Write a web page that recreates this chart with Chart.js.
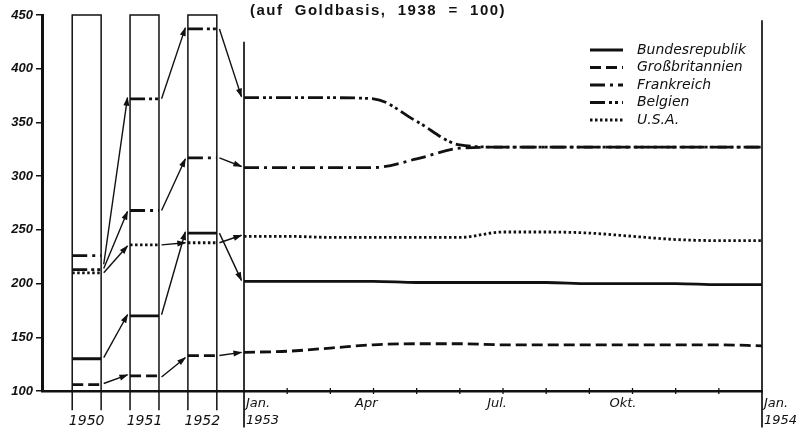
<!DOCTYPE html>
<html>
<head>
<meta charset="utf-8">
<script src="https://cdn.jsdelivr.net/npm/chart.js@4/dist/chart.umd.min.js"></script>
<style>
  html, body { margin: 0; background: #fff; }
  #c { display: block; }
</style>
</head>
<body>
<canvas id="c" width="802" height="431"></canvas>
<script>
// series
const countries = ['Bundesrepublik', 'Großbritannien', 'Frankreich', 'Belgien', 'U.S.A.'];

// yearly boxes 1950, 1951, 1952
const years = ['1950', '1951', '1952'];
const bundYears = [130, 170, 247];
const gbYears = [106, 114, 133];
const frYears = [226, 268, 317];
const beYears = [213, 372, 437];
const usaYears = [210, 236, 238];

// arrows between boxes (start value, end value)
const bundArrowFrom = [131, 171, 247];
const bundArrowTo = [171, 248, 203];
const gbArrowFrom = [107, 113, 133];
const gbArrowTo = [115, 131, 136];
const frArrowFrom = [214, 268, 317];
const frArrowTo = [267, 316, 309];
const beArrowFrom = [218, 372, 437];
const beArrowTo = [373, 438, 374];
const usaArrowFrom = [210, 236, 238];
const usaArrowTo = [235, 238, 245];

// monthly, Jan 1953 .. Jan 1954
const months = [0, 1, 2, 3, 4, 5, 6, 7, 8, 9, 10, 11, 12];
const bund53 = [202, 202, 202, 202, 201, 201, 201, 201, 200, 200, 200, 199, 199];
const gb53 = [136, 137, 140, 143, 144, 144, 143, 143, 143, 143, 143, 143, 142];
const fr53 = [308, 308, 308, 308, 316, 326, 327, 327, 327, 327, 327, 327, 327];
const be53 = [373, 373, 373, 372, 351, 329, 327, 327, 327, 327, 327, 327, 327];
const usa53 = [244, 244, 243, 243, 243, 243, 248, 248, 247, 244, 241, 240, 240];

const monthTickAt = [0, 3, 6, 9, 12];
const monthTickLabels = [['Jan.', '1953'], ['Apr'], ['Jul.'], ['Okt.'], ['Jan.', '1954']];
const yTicks = [100, 150, 200, 250, 300, 350, 400, 450];

// layout (in x units of months)
const X_MIN = -4.68, X_MAX = 12;
const BOX_LEFT = [-3.98, -2.64, -1.30];
const BOX_W = 0.67;
const INK = '#111';

const yearSets = [bundYears, gbYears, frYears, beYears, usaYears];
const fromSets = [bundArrowFrom, gbArrowFrom, frArrowFrom, beArrowFrom, usaArrowFrom];
const toSets = [bundArrowTo, gbArrowTo, frArrowTo, beArrowTo, usaArrowTo];
const monthSets = [bund53, gb53, fr53, be53, usa53];
const dashes = [[], [11, 5], [15, 5, 3, 5], [15, 4, 3, 3, 3, 4], [2.5, 2.5]];

const datasets = [];

// boxes
BOX_LEFT.forEach(l => {
  datasets.push({
    data: [{x: l, y: 82}, {x: l, y: 450}, {x: l + BOX_W, y: 450}, {x: l + BOX_W, y: 82}],
    borderColor: INK, borderWidth: 1.5, pointRadius: 0, clip: false, tension: 0
  });
});
// Jan 1953 and Jan 1954 verticals
datasets.push({data: [{x: 0, y: 66}, {x: 0, y: 425}], borderColor: INK, borderWidth: 1.7, pointRadius: 0, clip: false});
datasets.push({data: [{x: 12, y: 66}, {x: 12, y: 445}], borderColor: INK, borderWidth: 1.7, pointRadius: 0, clip: false});

countries.forEach((name, i) => {
  // monthly line
  datasets.push({
    label: name, legend: true,
    data: months.map((m, k) => ({x: m, y: monthSets[i][k]})),
    borderColor: INK, borderWidth: 2.8, borderDash: dashes[i],
    pointRadius: 0, cubicInterpolationMode: 'monotone'
  });
  // box segments
  const seg = [];
  BOX_LEFT.forEach((l, k) => {
    seg.push({x: l, y: yearSets[i][k]}, {x: l + BOX_W, y: yearSets[i][k]});
    if (k < BOX_LEFT.length - 1) seg.push({x: l + BOX_W + 0.3, y: null});
  });
  datasets.push({data: seg, borderColor: INK, borderWidth: 2.8, borderDash: dashes[i], pointRadius: 0, spanGaps: false});
  // arrows
  BOX_LEFT.forEach((l, k) => {
    const nextLeft = k < BOX_LEFT.length - 1 ? BOX_LEFT[k + 1] : 0;
    datasets.push({
      arrow: true,
      data: [{x: l + BOX_W + 0.06, y: fromSets[i][k]}, {x: nextLeft - 0.06, y: toSets[i][k]}],
      borderColor: INK, borderWidth: 1.4, pointRadius: 0
    });
  });
});

const decor = {
  id: 'decor',
  afterDatasetsDraw(chart) {
    const {ctx, chartArea, scales: {x}} = chart;
    ctx.save();
    ctx.fillStyle = INK;
    ctx.strokeStyle = INK;
    // arrow heads
    chart.data.datasets.forEach((ds, i) => {
      if (!ds.arrow) return;
      const pts = chart.getDatasetMeta(i).data;
      const a = pts[0], b = pts[1];
      const ang = Math.atan2(b.y - a.y, b.x - a.x);
      ctx.save();
      ctx.translate(b.x, b.y);
      ctx.rotate(ang);
      ctx.beginPath();
      ctx.moveTo(1, 0);
      ctx.lineTo(-8, -3);
      ctx.lineTo(-8, 3);
      ctx.closePath();
      ctx.fill();
      ctx.restore();
    });
    // month ticks
    ctx.lineWidth = 1.3;
    for (let m = 1; m < 12; m++) {
      const px = x.getPixelForValue(m);
      ctx.beginPath();
      ctx.moveTo(px, chartArea.bottom - 3);
      ctx.lineTo(px, chartArea.bottom + 3);
      ctx.stroke();
    }
    // x labels
    ctx.textBaseline = 'middle';
    ctx.font = 'italic 14px "DejaVu Sans"';
    ctx.textAlign = 'center';
    years.forEach((t, k) => {
      ctx.fillText(t, x.getPixelForValue(BOX_LEFT[k] + BOX_W / 2), chartArea.bottom + 30);
    });
    ctx.font = 'italic 13px "DejaVu Sans"';
    monthTickAt.forEach((m, k) => {
      const lines = monthTickLabels[k];
      const px = x.getPixelForValue(m);
      if (lines.length > 1) {
        ctx.textAlign = 'left';
        lines.forEach((s, j) => ctx.fillText(s, px + 2, chartArea.bottom + 13 + j * 17));
      } else {
        ctx.textAlign = 'right';
        ctx.fillText(lines[0], px + 4, chartArea.bottom + 13);
      }
    });
    // legend
    const legendSets = chart.data.datasets.filter(d => d.legend);
    ctx.font = 'italic 14px "DejaVu Sans"';
    ctx.textAlign = 'left';
    legendSets.forEach((ds, k) => {
      const ly = chartArea.top + 35 + k * 17.5;
      ctx.lineWidth = 2.8;
      ctx.setLineDash(ds.borderDash);
      ctx.beginPath();
      ctx.moveTo(chartArea.right - 172, ly);
      ctx.lineTo(chartArea.right - 139, ly);
      ctx.stroke();
      ctx.setLineDash([]);
      ctx.fillText(ds.label, chartArea.right - 125, ly);
    });
    // title
    ctx.font = 'bold 15px "Liberation Sans"';
    ctx.textAlign = 'center';
    ctx.letterSpacing = '1.5px';
    ctx.fillText('(auf  Goldbasis,  1938  =  100)', 378, 11);
    ctx.restore();
  }
};

new Chart(document.getElementById('c'), {
  type: 'line',
  data: {datasets},
  options: {
    responsive: false,
    animation: false,
    devicePixelRatio: 1,
    layout: {padding: {top: 15, right: 40, left: 0, bottom: 0}},
    plugins: {legend: {display: false}, tooltip: {enabled: false}},
    scales: {
      x: {
        type: 'linear', min: X_MIN, max: X_MAX,
        ticks: {display: false},
        grid: {display: false},
        border: {color: INK, width: 2.5},
        afterFit: s => { s.height = 40; }
      },
      y: {
        min: 100, max: 450,
        afterBuildTicks: s => { s.ticks = yTicks.map(v => ({value: v})); },
        ticks: {color: INK, padding: 3, font: {family: 'Liberation Sans', style: 'italic', weight: 'bold', size: 13}},
        grid: {display: true, drawOnChartArea: false, drawTicks: true, tickLength: 6, color: INK, lineWidth: 1.5},
        border: {color: INK, width: 3},
        afterFit: s => { s.width = 42; }
      }
    }
  },
  plugins: [decor]
});
</script>
</body>
</html>
